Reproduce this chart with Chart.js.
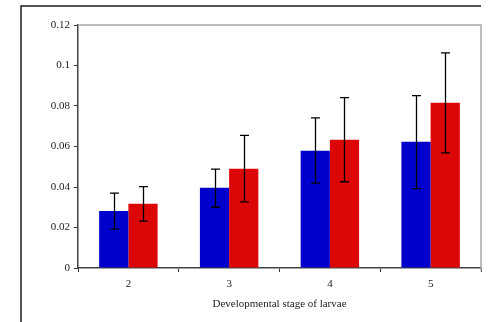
<!DOCTYPE html>
<html>
<head>
<meta charset="utf-8">
<script src="https://cdn.jsdelivr.net/npm/chart.js@4/dist/chart.umd.min.js"></script>
<style>
  html, body { margin: 0; padding: 0; background: #fff; }
  #wrap { width: 490px; height: 322px; position: relative; }
</style>
</head>
<body>
<div id="wrap"><canvas id="chart" width="490" height="322"></canvas></div>
<script>
// data
const stages = ['2', '3', '4', '5'];
const blueMeans = [0.0282, 0.0396, 0.0579, 0.0623];
const blueUpper = [0.0370, 0.0488, 0.0741, 0.0851];
const blueLower = [0.0192, 0.0300, 0.0419, 0.0392];
const redMeans = [0.0317, 0.0490, 0.0633, 0.0816];
const redUpper = [0.0402, 0.0655, 0.0841, 0.1062];
const redLower = [0.0231, 0.0327, 0.0426, 0.0569];
const yTicks = [0, 0.02, 0.04, 0.06, 0.08, 0.1, 0.12];

const serif = "'Liberation Serif', 'Times New Roman', serif";

// error bars, drawn from the y scale
const errorBars = {
  id: 'errorBars',
  afterDatasetsDraw(chart) {
    const ctx = chart.ctx;
    const y = chart.scales.y;
    chart.data.datasets.forEach((ds, i) => {
      const meta = chart.getDatasetMeta(i);
      meta.data.forEach((bar, j) => {
        const top = y.getPixelForValue(ds.upper[j]);
        const bot = y.getPixelForValue(ds.lower[j]);
        const x = Math.round(bar.x) + 0.5;
        ctx.save();
        ctx.strokeStyle = '#000';
        ctx.lineWidth = 1.3;
        ctx.beginPath();
        ctx.moveTo(x, top); ctx.lineTo(x, bot);
        ctx.moveTo(x - 4.5, top); ctx.lineTo(x + 4.5, top);
        ctx.moveTo(x - 4.5, bot); ctx.lineTo(x + 4.5, bot);
        ctx.stroke();
        ctx.restore();
      });
    });
  }
};

// grey plot border top/right and the outer frame
const frames = {
  id: 'frames',
  beforeDatasetsDraw(chart) {
    const ctx = chart.ctx;
    const a = chart.chartArea;
    ctx.save();
    ctx.strokeStyle = '#a8a8a8';
    ctx.lineWidth = 1.5;
    ctx.beginPath();
    ctx.moveTo(a.left, a.top);
    ctx.lineTo(a.right, a.top);
    ctx.lineTo(a.right, a.bottom + 3);
    ctx.stroke();
    ctx.strokeStyle = '#1e1e1e';
    ctx.lineWidth = 1.5;
    ctx.beginPath();
    ctx.moveTo(21, 322);
    ctx.lineTo(21, 6);
    ctx.lineTo(481, 6);
    ctx.stroke();
    ctx.restore();
  }
};

new Chart(document.getElementById('chart'), {
  type: 'bar',
  data: {
    labels: stages,
    datasets: [{
      data: blueMeans,
      upper: blueUpper,
      lower: blueLower,
      backgroundColor: '#0000cc'
    }, {
      data: redMeans,
      upper: redUpper,
      lower: redLower,
      backgroundColor: '#dd0606'
    }]
  },
  options: {
    responsive: false,
    animation: false,
    devicePixelRatio: 1,
    categoryPercentage: 0.58,
    barPercentage: 1.0,
    layout: { padding: { left: 0, right: 9, top: 25, bottom: 0 } },
    plugins: { legend: { display: false }, tooltip: { enabled: false } },
    scales: {
      x: {
        afterFit(s) { s.height = 54; },
        grid: { drawOnChartArea: false, drawTicks: true, tickLength: 4, color: '#333', offset: true },
        border: { color: '#444', width: 1.5 },
        ticks: { color: '#222', font: { family: serif, size: 11 }, padding: 6 },
        title: {
          display: true,
          text: 'Developmental stage of larvae',
          color: '#222',
          font: { family: serif, size: 11 },
          padding: { top: 4, bottom: 11 }
        }
      },
      y: {
        min: 0,
        max: 0.12,
        afterFit(s) { s.width = 78; },
        afterBuildTicks(s) { s.ticks = yTicks.map(v => ({ value: v })); },
        grid: { drawOnChartArea: false, drawTicks: true, tickLength: 4, color: '#333' },
        border: { color: '#444', width: 1.5 },
        ticks: {
          color: '#222',
          font: { family: serif, size: 11 },
          padding: 4,
          callback: v => String(+v.toFixed(2))
        }
      }
    }
  },
  plugins: [frames, errorBars]
});
</script>
</body>
</html>
